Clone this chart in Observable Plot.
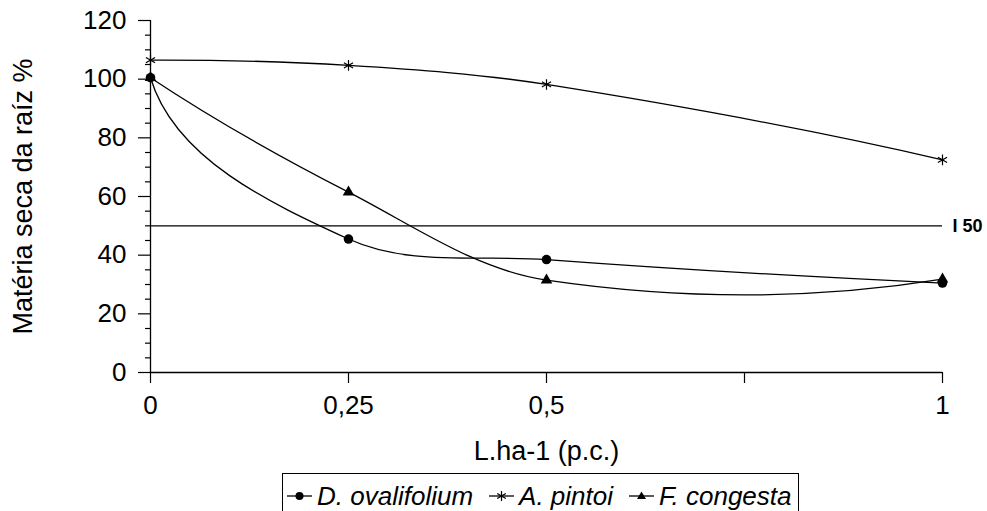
<!DOCTYPE html>
<html><head><meta charset="utf-8">
<script src="https://cdn.jsdelivr.net/npm/d3@7"></script>
<script src="https://cdn.jsdelivr.net/npm/@observablehq/plot@0.6"></script>
<style>
html,body{margin:0;padding:0;background:#fff;overflow:hidden;}
#wrap{position:relative;width:987px;height:511px;font-family:"Liberation Sans",Arial,sans-serif;color:#000;}
#legend{position:absolute;left:282px;top:473px;height:38px;border:1.3px solid #000;border-bottom:none;display:flex;align-items:flex-start;padding:10px 6px 0 4px;box-sizing:border-box;font-style:italic;font-size:26px;line-height:24px;background:#fff;}
.item{display:flex;align-items:center;margin-right:16px;white-space:nowrap;}
.item:last-child{margin-right:0;}
.item svg{margin-right:5px;}
</style></head><body><div id="wrap"><div id="chart"></div><div id="legend"></div></div>
<script>
// ---- data ----
const doses = [0, 0.25, 0.5, 1];
const seriesNames = ["D. ovalifolium", "A. pintoi", "F. congesta"];
const dOvalifolium = [100.5, 45.5, 38.5, 30.5];
const aPintoi = [106.5, 104.7, 98.2, 72.5];
const fCongesta = [100.5, 61.5, 31.5, 31.8];
const seriesSymbols = ["circle", "asterisk", "triangle"];
const xTicks = [0, 0.25, 0.5, 0.75, 1];
const xTickLabels = ["0", "0,25", "0,5", "", "1"];
const yTicks = [0, 20, 40, 60, 80, 100, 120];
const yMinorTicks = [5, 10, 15, 25, 30, 35, 45, 50, 55, 65, 70, 75, 85, 90, 95, 105, 110, 115];
const i50 = 50;
const i50Label = "I 50";
const yTitle = "Matéria seca da raíz %";
const xTitle = "L.ha-1 (p.c.)";

const seriesValues = [dOvalifolium, aPintoi, fCongesta];
const rows = [];
seriesNames.forEach((s, k) => doses.forEach((d, i) => rows.push({series: s, dose: d, value: seriesValues[k][i]})));

// Excel-like smoothed line: Bezier handles of 1/3 chord along (P[i+1]-P[i-1]);
// end tangents reflected about the end chord in a vertically stretched space.
const reflectStretch = 10;
function excelSmooth(context) {
  let pts = [];
  const unit = (dx, dy) => { const l = Math.hypot(dx, dy) || 1; return [dx / l, dy / l]; };
  const reflectEnd = (chord, tanPx) => {
    const c = unit(chord[0], chord[1] * reflectStretch);
    const t = unit(tanPx[0], tanPx[1] * reflectStretch);
    const k = 2 * (c[0] * t[0] + c[1] * t[1]);
    const r = [k * c[0] - t[0], k * c[1] - t[1]];
    return unit(r[0], r[1] / reflectStretch);
  };
  return {
    areaStart() {}, areaEnd() {},
    lineStart() { pts = []; },
    point(x, y) { pts.push([+x, +y]); },
    lineEnd() {
      const n = pts.length;
      if (!n) return;
      context.moveTo(pts[0][0], pts[0][1]);
      if (n === 1) return;
      if (n === 2) { context.lineTo(pts[1][0], pts[1][1]); return; }
      const seg = [];
      for (let i = 0; i < n - 1; i++) seg.push(Math.hypot(pts[i + 1][0] - pts[i][0], pts[i + 1][1] - pts[i][1]));
      const tan = new Array(n);
      for (let i = 1; i < n - 1; i++) tan[i] = unit(pts[i + 1][0] - pts[i - 1][0], pts[i + 1][1] - pts[i - 1][1]);
      tan[0] = reflectEnd([pts[1][0] - pts[0][0], pts[1][1] - pts[0][1]], tan[1]);
      tan[n - 1] = reflectEnd([pts[n - 1][0] - pts[n - 2][0], pts[n - 1][1] - pts[n - 2][1]], tan[n - 2]);
      for (let i = 0; i < n - 1; i++) {
        const a = seg[i] / 3;
        context.bezierCurveTo(
          pts[i][0] + tan[i][0] * a, pts[i][1] + tan[i][1] * a,
          pts[i + 1][0] - tan[i + 1][0] * a, pts[i + 1][1] - tan[i + 1][1] * a,
          pts[i + 1][0], pts[i + 1][1]);
      }
    }
  };
}

const bySeries = (s) => rows.filter(r => r.series === s);

const chart = Plot.plot({
  width: 987,
  height: 471,
  marginLeft: 150,
  marginRight: 45,
  marginTop: 20,
  marginBottom: 99,
  x: {domain: [0, 1], axis: null},
  y: {domain: [0, 120], axis: null},
  style: {fontFamily: '"Liberation Sans", Arial, sans-serif', color: "#000", background: "#fff", overflow: "visible"},
  marks: [
    Plot.ruleY([i50], {stroke: "#000", strokeWidth: 1.2}),
    Plot.text([i50], {x: () => 1, y: d => d, text: () => i50Label, dx: 10, textAnchor: "start", fontWeight: "bold", fontSize: 18}),
    Plot.axisY(yMinorTicks, {tickSize: 5, tickFormat: () => "", label: null, strokeWidth: 1.2}),
    Plot.axisY(yTicks, {tickSize: 12, tickPadding: 12, fontSize: 26, label: null, tickFormat: d => String(d), strokeWidth: 1.2}),
    Plot.axisX(xTicks, {tickSize: 11, tickPadding: 12, fontSize: 26, label: null, tickFormat: d => xTickLabels[xTicks.indexOf(d)], strokeWidth: 1.2}),
    Plot.ruleX([0], {stroke: "#000", strokeWidth: 1.3}),
    Plot.ruleY([0], {stroke: "#000", strokeWidth: 1.3}),
    Plot.text([yTitle], {frameAnchor: "left", textAnchor: "middle", dx: -127, rotate: -90, fontSize: 27, text: d => d}),
    Plot.text([xTitle], {frameAnchor: "bottom", dy: 87, fontSize: 27, text: d => d}),
    Plot.line(rows, {x: "dose", y: "value", z: "series", curve: excelSmooth, stroke: "#000", strokeWidth: 1.3}),
    Plot.dot(bySeries(seriesNames[0]), {x: "dose", y: "value", symbol: "circle", r: 4.8, fill: "#000", stroke: "none"}),
    Plot.dot(bySeries(seriesNames[2]), {x: "dose", y: "value", symbol: "triangle", r: 4.3, fill: "#000", stroke: "none"}),
    Plot.dot(bySeries(seriesNames[1]), {x: "dose", y: "value", symbol: "asterisk", r: 5, stroke: "#000", strokeWidth: 1.2, fill: "none"})
  ]
});
document.getElementById("chart").appendChild(chart);

// legend
const legend = document.getElementById("legend");
seriesNames.forEach((s, k) => {
  const item = document.createElement("div");
  item.className = "item";
  const sym = seriesSymbols[k];
  let marker = "";
  if (sym === "circle") marker = '<circle cx="12.5" cy="10" r="4" fill="#000"/>';
  else if (sym === "triangle") marker = '<path d="M12.5,5.5 L17,13 L8,13 Z" fill="#000"/>';
  else marker = '<path d="M12.5,5 V15 M8.2,7.5 L16.8,12.5 M8.2,12.5 L16.8,7.5" stroke="#000" stroke-width="1.2" fill="none"/>';
  item.innerHTML = '<svg width="25" height="20" viewBox="0 0 25 20"><line x1="0" y1="10" x2="25" y2="10" stroke="#000" stroke-width="1.3"/>' + marker + '</svg><span></span>';
  item.querySelector("span").textContent = s;
  legend.appendChild(item);
});
</script>
</body></html>
